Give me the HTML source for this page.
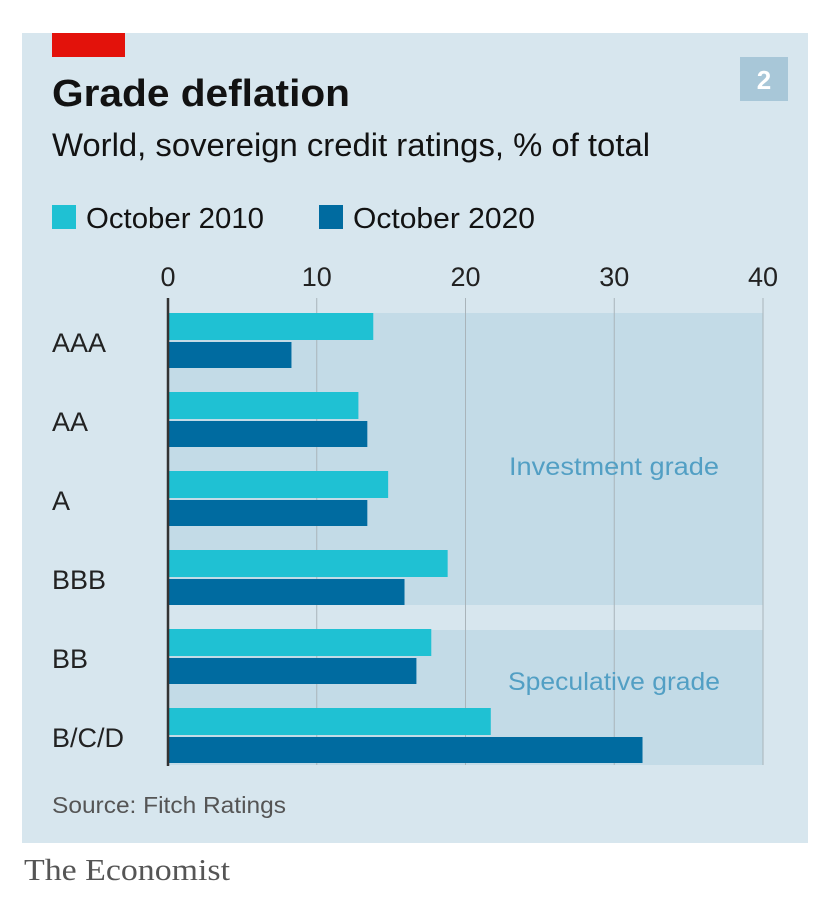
<!DOCTYPE html>
<html><head><meta charset="utf-8"><style>
body{margin:0;background:#fff;width:824px;height:910px;overflow:hidden;font-family:"Liberation Sans",sans-serif}
</style></head><body>
<svg width="824" height="910">
<rect x="22" y="33" width="786" height="810" fill="#d7e6ee"/>
<rect x="52" y="33" width="73" height="24" fill="#e3120b"/>
<text x="52" y="106" font-size="38" font-weight="bold" fill="#121212" textLength="298" lengthAdjust="spacingAndGlyphs">Grade deflation</text>
<text x="52" y="156" font-size="32" fill="#121212" textLength="598" lengthAdjust="spacingAndGlyphs">World, sovereign credit ratings, % of total</text>
<rect x="740" y="57" width="48" height="44" fill="#a8c7d8"/>
<text x="764" y="89" font-size="26" font-weight="bold" fill="#fff" text-anchor="middle">2</text>
<g>
<rect x="52" y="205" width="24" height="24" fill="#1fc1d3"/>
<text x="86" y="228" font-size="29" fill="#121212" textLength="178" lengthAdjust="spacingAndGlyphs">October 2010</text>
<rect x="319" y="205" width="24" height="24" fill="#006ba0"/>
<text x="353" y="228" font-size="29" fill="#121212" textLength="182" lengthAdjust="spacingAndGlyphs">October 2020</text>
</g>
<g id="plot"></g>
<text x="52" y="813" font-size="23" fill="#555" textLength="234" lengthAdjust="spacingAndGlyphs">Source: Fitch Ratings</text>
<text x="24" y="880" font-size="31" font-family="Liberation Serif, serif" fill="#555" textLength="206" lengthAdjust="spacingAndGlyphs">The Economist</text>
</svg>
<script>
const categories=["AAA","AA","A","BBB","BB","B/C/D"];
const values2010=[13.8,12.8,14.8,18.8,17.7,21.7];
const values2020=[8.3,13.4,13.4,15.9,16.7,31.9];
const ticks=[0,10,20,30,40];
const NS="http://www.w3.org/2000/svg";
const g=document.getElementById('plot');
const x=v=>168+v*14.875;
const rowY=i=>313+i*79;
function mk(t,a,p){const e=document.createElementNS(NS,t);for(const k in a)e.setAttribute(k,a[k]);(p||g).appendChild(e);return e;}
let r=mk('rect',{x:168,y:313,width:x(40)-168,height:292,fill:"#c3dbe7"});


r=mk('rect',{x:168,y:630,width:x(40)-168,height:135,fill:"#c3dbe7"});


ticks.forEach(t=>{
  if(t>0){const l=mk('line',{x1:x(t),x2:x(t),y1:298,y2:765,stroke:"#a9b4ba","stroke-width":1});
  
  }
  const tx=mk('text',{x:x(t),y:286,"font-size":27,fill:"#222","text-anchor":"middle"});tx.textContent=t;
  
  
});
categories.forEach((c,i)=>{
  const y=rowY(i);
  const b1=mk('rect',{x:168,y:y,width:x(values2010[i])-168,height:27,fill:"#1fc1d3"});
  
  
  const b2=mk('rect',{x:168,y:y+29,width:x(values2020[i])-168,height:26,fill:"#006ba0"});
  
  
  const l=mk('text',{x:52,y:y+39,"font-size":27,fill:"#222"});l.textContent=c;
  
  
});
const ax=mk('line',{x1:168,x2:168,y1:298,y2:766,stroke:"#333","stroke-width":2.5});


let t=mk('text',{x:614,y:475,"font-size":25,fill:"#529fc4","text-anchor":"middle","textLength":210,"lengthAdjust":"spacingAndGlyphs"});t.textContent="Investment grade";


t=mk('text',{x:614,y:690,"font-size":25,fill:"#529fc4","text-anchor":"middle","textLength":212,"lengthAdjust":"spacingAndGlyphs"});t.textContent="Speculative grade";


</script>
</body></html>
